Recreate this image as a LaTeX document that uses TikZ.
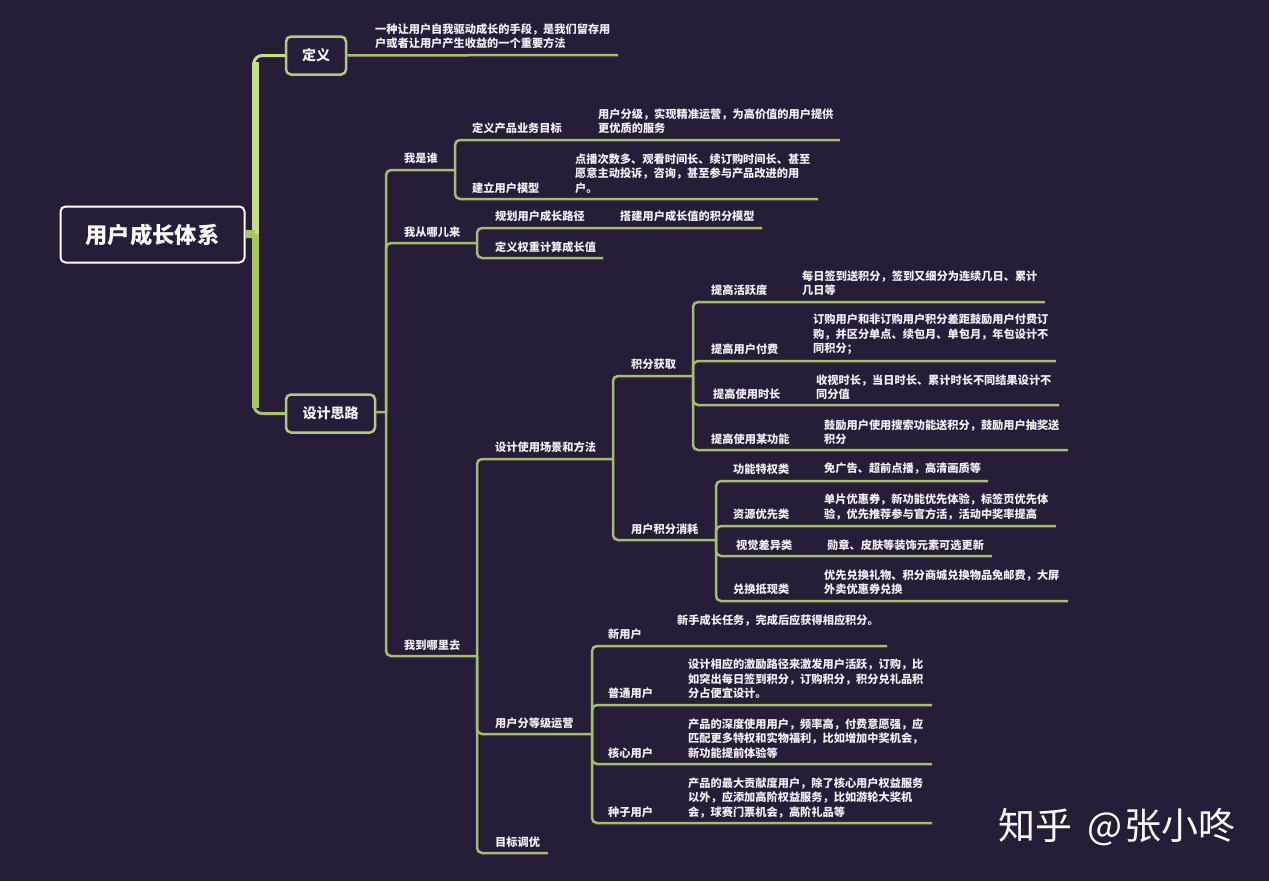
\documentclass[tikz,border=0pt]{standalone}
\usepackage{fontspec}
\setmainfont{Noto Sans CJK SC}
\definecolor{bgcol}{HTML}{271D38}
\definecolor{txtcol}{HTML}{F1EFF3}
\definecolor{linecol}{HTML}{A6BD6D}
\definecolor{boxcol}{HTML}{B3CA7E}
\definecolor{trunktop}{HTML}{C4DE8F}
\definecolor{trunkbot}{HTML}{AAC566}
\tikzset{
  lab/.style={anchor=west, inner sep=0pt, text=txtcol, align=left, font=\fontsize{11.2}{14.5}\selectfont\bfseries},
  topbox/.style={draw=boxcol, line width=2.5pt, rounded corners=5pt, text=txtcol, inner sep=0pt, font=\fontsize{14}{16}\selectfont\bfseries},
  branch/.style={draw=linecol, line width=2.5pt, rounded corners=5pt, line cap=butt},
}
\begin{document}
\begin{tikzpicture}[x=1pt, y=-1pt]
\useasboundingbox (0,0) rectangle (1269,881);
\fill[bgcol] (0,0) rectangle (1269,881);

\node[draw=white, line width=2pt, rounded corners=5pt, minimum width=184pt, minimum height=56pt, inner sep=0pt, text=white, font=\fontsize{22.3}{24}\selectfont\bfseries] (root) at (152.5,234.5) {用户成长体系};
\node[topbox, minimum width=60pt, minimum height=38pt] (define) at (316,55.5) {定义};
\node[topbox, minimum width=89pt, minimum height=38pt] (design) at (330.5,413.5) {设计思路};

\coordinate (trunk) at (255,234);
\coordinate (s2) at (386,412);
\draw[trunktop, line width=3pt, rounded corners=8pt] (254,80) |- (define);
\draw[trunkbot, line width=3pt, rounded corners=8pt] (254,380) |- (design);
\draw[trunktop, line width=7pt] (trunk) -- ([yshift=-6pt]trunk|-define);
\draw[trunkbot, line width=7pt] (trunk) -- ([yshift=6pt]trunk|-design);
\draw[trunkbot, line width=8pt] (root) -- (trunk);
\draw[branch] (design) -- (s2);

\node[lab] (definetxt) at (375,36) {一种让用户自我驱动成长的手段，是我们留存用\\户或者让用户产生收益的一个重要方法};
\coordinate (definee) at (618,55);
\draw[branch] (define) -- (definee);

% second level
\node[lab] (who) at (404,158) {我是谁};
\node[lab] (from) at (404,232) {我从哪儿来};
\node[lab] (to) at (404,645) {我到哪里去};
\coordinate (swho) at (455,170);
\coordinate (sfrom) at (477,243);
\coordinate (sto) at (477,656);
\draw[branch] (s2) |- (swho);
\draw[branch] (s2) |- (sfrom);
\draw[branch] (s2) |- (sto);

% who
\node[lab] (goal) at (472,128) {定义产品业务目标};
\node[lab] (goaltxt) at (598,121) {用户分级，实现精准运营，为高价值的用户提供\\更优质的服务};
\coordinate (goale) at (840,140);
\draw[branch] (swho) |- (goale);
\node[lab] (model) at (472,188) {建立用户模型};
\node[lab] (modeltxt) at (575,173.5) {点播次数多、观看时间长、续订购时间长、甚至\\愿意主动投诉，咨询，甚至参与产品改进的用\\户。};
\coordinate (modele) at (818,199);
\draw[branch] (swho) |- (modele);

% from
\node[lab] (path) at (495,216) {规划用户成长路径};
\node[lab] (pathtxt) at (620,216) {搭建用户成长值的积分模型};
\coordinate (pathe) at (762,228);
\draw[branch] (sfrom) |- (pathe);
\node[lab] (weight) at (495,247) {定义权重计算成长值};
\coordinate (weighte) at (603,258);
\draw[branch] (sfrom) |- (weighte);

% to
\node[lab] (scene) at (495,447) {设计使用场景和方法};
\node[lab] (level) at (495,723) {用户分等级运营};
\node[lab] (tune) at (495,842) {目标调优};
\coordinate (sscene) at (613,459);
\coordinate (slevel) at (592,734);
\coordinate (tunee) at (548,853);
\draw[branch] (sto) |- (sscene);
\draw[branch] (sto) |- (slevel);
\draw[branch] (sto) |- (tunee);

% scene
\node[lab] (gain) at (631,364) {积分获取};
\node[lab] (spend) at (631,529) {用户积分消耗};
\coordinate (sgain) at (693,376);
\coordinate (sspend) at (716,540);
\draw[branch] (sscene) |- (sgain);
\draw[branch] (sscene) |- (sspend);

% gain
\node[lab] (active) at (711,290) {提高活跃度};
\node[lab] (activetxt) at (802,283) {每日签到送积分，签到又细分为连续几日、累计\\几日等};
\coordinate (activee) at (1045,302);
\draw[branch] (sgain) |- (activee);
\node[lab] (pay) at (711,349) {提高用户付费};
\node[lab] (paytxt) at (813,334.5) {订购用户和非订购用户积分差距鼓励用户付费订\\购，并区分单点、续包月、单包月，年包设计不\\同积分；};
\coordinate (paye) at (1056,361);
\draw[branch] (sgain) |- (paye);
\node[lab] (time) at (713,394) {提高使用时长};
\node[lab] (timetxt) at (816,387) {收视时长，当日时长、累计时长不同结果设计不\\同分值};
\coordinate (timee) at (1059,405);
\draw[branch] (sgain) |- (timee);
\node[lab] (func) at (711,439) {提高使用某功能};
\node[lab] (functxt) at (824,432) {鼓励用户使用搜索功能送积分，鼓励用户抽奖送\\积分};
\coordinate (funce) at (1068,450);
\draw[branch] (sgain) |- (funce);

% spend
\node[lab] (priv) at (733,469) {功能特权类};
\node[lab] (privtxt) at (824,469) {免广告、超前点播，高清画质等};
\coordinate (prive) at (988,481);
\draw[branch] (sspend) |- (prive);
\node[lab] (res) at (733,514) {资源优先类};
\node[lab] (restxt) at (824,507) {单片优惠券，新功能优先体验，标签页优先体\\验，优先推荐参与官方活，活动中奖率提高};
\coordinate (rese) at (1056,526);
\draw[branch] (sspend) |- (rese);
\node[lab] (look) at (736,545) {视觉差异类};
\node[lab] (looktxt) at (827,545) {勋章、皮肤等装饰元素可选更新};
\coordinate (looke) at (992,556);
\draw[branch] (sspend) |- (looke);
\node[lab] (swap) at (733,589) {兑换抵现类};
\node[lab] (swaptxt) at (824,582) {优先兑换礼物、积分商城兑换物品免邮费，大屏\\外卖优惠券兑换};
\coordinate (swape) at (1068,601);
\draw[branch] (sspend) |- (swape);

% level
\node[lab] (fresh) at (608,634) {新用户};
\node[lab] (freshtxt) at (677,620) {新手成长任务，完成后应获得相应积分。};
\coordinate (freshe) at (887,646);
\draw[branch] (slevel) |- (freshe);
\node[lab] (plain) at (608,693) {普通用户};
\node[lab] (plaintxt) at (688,679) {设计相应的激励路径来激发用户活跃，订购，比\\如突出每日签到积分，订购积分，积分兑礼品积\\分占便宜设计。};
\coordinate (plaine) at (932,705);
\draw[branch] (slevel) |- (plaine);
\node[lab] (core) at (608,753) {核心用户};
\node[lab] (coretxt) at (688,738.5) {产品的深度使用用户，频率高，付费意愿强，应\\匹配更多特权和实物福利，比如增加中奖机会，\\新功能提前体验等};
\coordinate (coree) at (932,764);
\draw[branch] (slevel) |- (coree);
\node[lab] (seed) at (608,812) {种子用户};
\node[lab] (seedtxt) at (688,797.5) {产品的最大贡献度用户，除了核心用户权益服务\\以外，应添加高阶权益服务，比如游轮大奖机\\会，球赛门票机会，高阶礼品等};
\coordinate (seede) at (932,823);
\draw[branch] (slevel) |- (seede);

\node[anchor=west, inner sep=0pt, text=white, font=\fontsize{37}{40}\selectfont] (mark) at (998,827) {知乎\hspace{15pt}@\hspace{2pt}张小咚};
\end{tikzpicture}
\end{document}
